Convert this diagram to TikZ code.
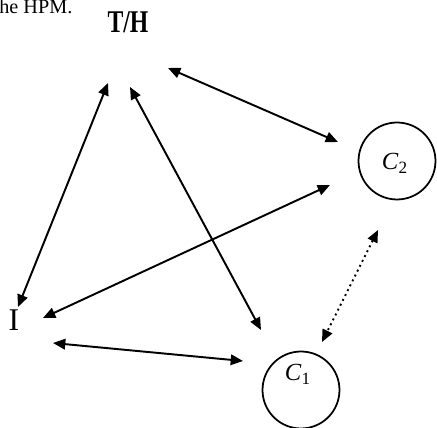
\documentclass[tikz,border=0pt]{standalone}
\usepackage{fontspec}
\setmainfont{Liberation Serif}
\usepackage{tikz}
\usetikzlibrary{arrows.meta,positioning}

\begin{document}
\begin{tikzpicture}[
  x=0.02cm,y=-0.02cm,
  party/.style={circle,draw,line width=1pt,minimum size=1.54cm,inner sep=0pt},
  big/.style={font=\fontsize{18}{20}\selectfont,inner sep=0pt},
  sub/.style={font=\fontsize{14}{16}\selectfont,inner sep=0pt},
  link/.style={line width=1.1pt,{Triangle[length=7pt,width=6pt]}-{Triangle[length=7pt,width=6pt]}},
  weak/.style={link,dotted}
]
\useasboundingbox (0,0) rectangle (437,428);
\node[anchor=base west,inner sep=0pt,font=\fontsize{11.5}{13}\selectfont] (cap) at (-1,14) {he HPM.};
\node[big,font=\fontsize{18}{20}\selectfont\bfseries] (th) at (128,22) {\scalebox{0.75}[1]{T/H}};
\node[big] (i) at (14,320) {I};
\node[party] (c2) at (397,161) {};
\node[party] (c1) at (301,390) {};
\node[sub] (c2t) at (395,163) {\textit{C}\textsubscript{2}};
\node[sub] (c1t) at (298,374) {\textit{C}\textsubscript{1}};
% arrow ends
\foreach \n/\x/\y in {thi/108/83,ith/18/307,thc/130/87,cth/261/330,thd/168/68,dth/338/142,
  id/43/318,di/330/185,ic/53/343,ci/243/361,dc/378/230,cd/322/342}{\coordinate (\n) at (\x,\y);}
\foreach \a/\b in {thi/ith,thc/cth,thd/dth,id/di,ic/ci}{\draw[link] (\a)--(\b);}
\draw[weak] (dc)--(cd);
\end{tikzpicture}
\end{document}
